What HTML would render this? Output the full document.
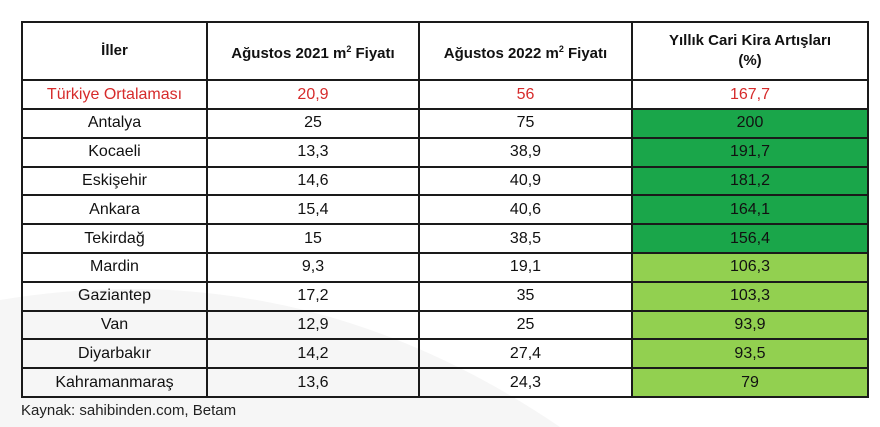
<!DOCTYPE html>
<html><head><meta charset="utf-8"><style>
body{margin:0;width:880px;height:427px;background:#fff;font-family:"Liberation Sans",sans-serif;position:relative;overflow:hidden}
#bg{position:absolute;left:0;top:0}
table{position:absolute;left:21px;top:21px;border-collapse:collapse;table-layout:fixed;color:#111}
td,th{border:2px solid #1a1a1a;text-align:center;padding:0;font-size:16px;font-weight:normal;overflow:hidden;white-space:nowrap}
th{font-weight:bold;font-size:15px;height:56px;line-height:20px}
td{height:26.8px}
tr.avg td{color:#d62b2b;height:27px}
.dg{background:#1aa64a}.lg{background:#92d050}
#src{position:absolute;left:21px;top:402px;font-size:15px;color:#222}
</style></head><body>
<svg id="bg" width="880" height="427"><path d="M0 300 Q300 250 560 427 L0 427Z" fill="#f6f6f6"/></svg>
<table id="t">
<colgroup><col style="width:185px"><col style="width:212px"><col style="width:213px"><col style="width:236px"></colgroup>
<tr><th>İller</th><th>Ağustos 2021 m<sup style="font-size:9px">2</sup> Fiyatı</th><th>Ağustos 2022 m<sup style="font-size:9px">2</sup> Fiyatı</th><th>Yıllık Cari Kira Artışları<br>(%)</th></tr>
<tr class="avg"><td>Türkiye Ortalaması</td><td>20,9</td><td>56</td><td>167,7</td></tr>
</table>
<div id="src">Kaynak: sahibinden.com, Betam</div>
<script>
const cities=["Antalya","Kocaeli","Eskişehir","Ankara","Tekirdağ","Mardin","Gaziantep","Van","Diyarbakır","Kahramanmaraş"];
const price2021=["25","13,3","14,6","15,4","15","9,3","17,2","12,9","14,2","13,6"];
const price2022=["75","38,9","40,9","40,6","38,5","19,1","35","25","27,4","24,3"];
const increase=["200","191,7","181,2","164,1","156,4","106,3","103,3","93,9","93,5","79"];
const t=document.getElementById('t');
cities.forEach((c,i)=>{
  const tr=document.createElement('tr');
  
  
  [c,price2021[i],price2022[i],increase[i]].forEach((v,j)=>{
    const td=document.createElement('td');
    td.textContent=v;
    
    
    if(j==3) td.className=parseFloat(v.replace(',','.'))>150?'dg':'lg';
    tr.appendChild(td);
  });
  t.appendChild(tr);
});
</script>
</body></html>
